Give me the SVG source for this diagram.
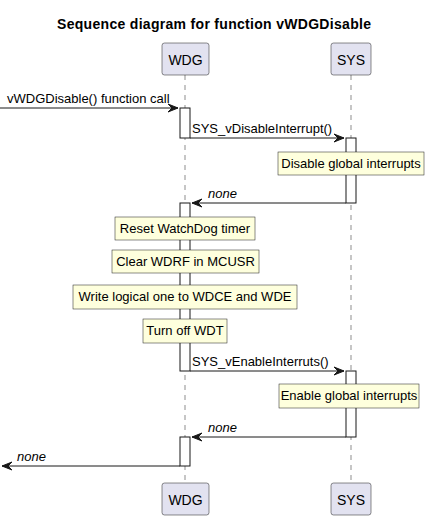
<svg xmlns="http://www.w3.org/2000/svg" width="429" height="520" viewBox="0 0 429 520">
<defs>
<style>
.title{font-family:"Liberation Sans",Arial,sans-serif;font-size:14px;font-weight:bold;fill:#000}
.part rect{fill:#E2E2F0;stroke:#181818;stroke-width:0.5}
.part text{font-family:"Liberation Sans",Arial,sans-serif;font-size:14px;fill:#000;text-anchor:middle}
.life{stroke:#181818;stroke-width:0.5;stroke-dasharray:5,5;fill:none}
.act{fill:#FFFFFF;stroke:#181818;stroke-width:1}
.note rect{fill:#FEFFDD;stroke:#181818;stroke-width:0.5}
.note text{font-family:"Liberation Sans",Arial,sans-serif;font-size:13px;fill:#000;text-anchor:middle}
.msg{stroke:#181818;stroke-width:1;fill:none}
.head{fill:#181818;stroke:#181818;stroke-width:1}
.lbl{font-family:"Liberation Sans",Arial,sans-serif;font-size:13px;fill:#000}
.it{font-style:italic}
</style>
</defs>
<rect width="429" height="520" fill="#FFFFFF"/>
<text class="title" x="57" y="29" textLength="314" lengthAdjust="spacing">Sequence diagram for function vWDGDisable</text>

<g id="lifelines">
<line class="life" x1="185" y1="75" x2="185" y2="483"/>
<line class="life" x1="351" y1="75" x2="351" y2="483"/>
</g>

<g id="WDG" class="part">
<rect x="162" y="43" width="47" height="32" rx="2.5"/>
<text x="185.5" y="65">WDG</text>
<rect x="162" y="483" width="47" height="32" rx="2.5"/>
<text x="185.5" y="505">WDG</text>
</g>
<g id="SYS" class="part">
<rect x="331" y="43" width="40" height="32" rx="2.5"/>
<text x="351" y="65">SYS</text>
<rect x="331" y="483" width="40" height="32" rx="2.5"/>
<text x="351" y="505">SYS</text>
</g>

<g id="activations">
<rect class="act" x="180" y="108" width="10" height="30"/>
<rect class="act" x="346" y="138" width="10" height="65"/>
<rect class="act" x="180" y="203" width="10" height="168"/>
<rect class="act" x="346" y="371" width="10" height="66"/>
<rect class="act" x="180" y="437" width="10" height="29"/>
</g>

<g id="connectors">
<line class="msg" x1="0" y1="108" x2="178" y2="108"/>
<polygon class="head" points="168,104 178,108 168,112 172,108"/>
<text class="lbl" x="7" y="103">vWDGDisable() function call</text>

<line class="msg" x1="190" y1="138" x2="344" y2="138"/>
<polygon class="head" points="334,134 344,138 334,142 338,138"/>
<text class="lbl" x="192" y="133">SYS_vDisableInterrupt()</text>

<line class="msg" x1="192" y1="203" x2="346" y2="203"/>
<polygon class="head" points="202,199 192,203 202,207 198,203"/>
<text class="lbl it" x="208" y="198">none</text>

<line class="msg" x1="190" y1="371" x2="344" y2="371"/>
<polygon class="head" points="334,367 344,371 334,375 338,371"/>
<text class="lbl" x="192" y="366">SYS_vEnableInterruts()</text>

<line class="msg" x1="192" y1="437" x2="346" y2="437"/>
<polygon class="head" points="202,433 192,437 202,441 198,437"/>
<text class="lbl it" x="208" y="432">none</text>

<line class="msg" x1="2" y1="466" x2="180" y2="466"/>
<polygon class="head" points="12,462 2,466 12,470 8,466"/>
<text class="lbl it" x="17" y="461">none</text>
</g>

<g id="note1" class="note">
<rect x="278" y="152" width="146" height="23"/>
<text x="351" y="168">Disable global interrupts</text>
</g>
<g id="note2" class="note">
<rect x="115" y="217" width="140" height="23"/>
<text x="185" y="233">Reset WatchDog timer</text>
</g>
<g id="note3" class="note">
<rect x="112" y="250" width="147" height="23"/>
<text x="185.5" y="266">Clear WDRF in MCUSR</text>
</g>
<g id="note4" class="note">
<rect x="73" y="285" width="224" height="24"/>
<text x="185" y="301">Write logical one to WDCE and WDE</text>
</g>
<g id="note5" class="note">
<rect x="143" y="319" width="84" height="24"/>
<text x="185" y="335">Turn off WDT</text>
</g>
<g id="note6" class="note">
<rect x="279" y="384" width="140" height="24"/>
<text x="349" y="400">Enable global interrupts</text>
</g>
</svg>
